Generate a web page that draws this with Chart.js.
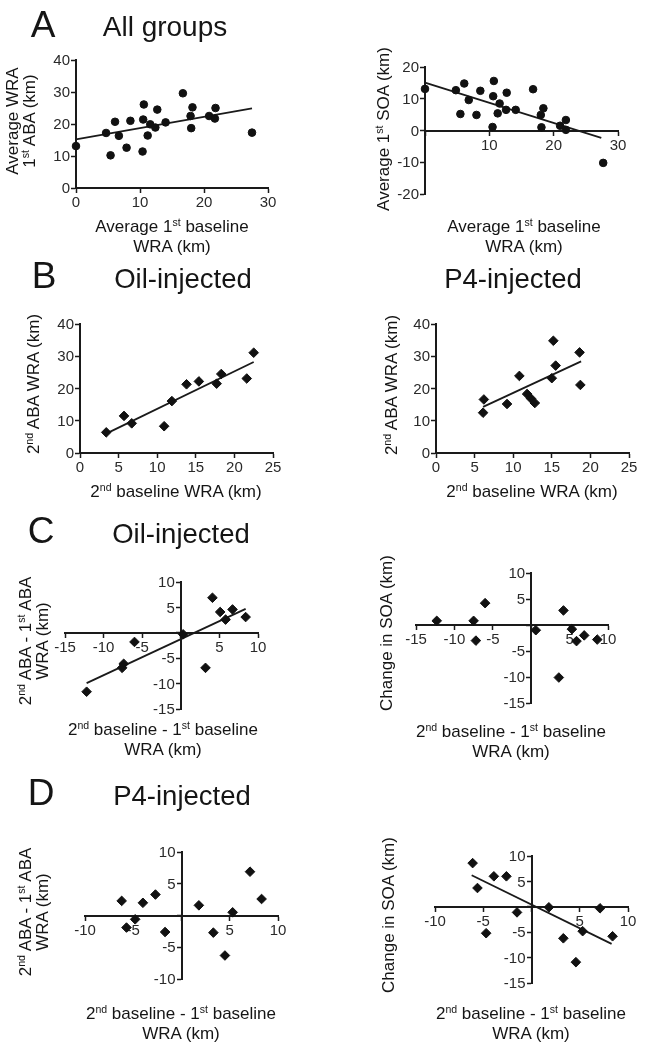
<!DOCTYPE html>
<html>
<head>
<meta charset="utf-8">
<script src="https://cdn.jsdelivr.net/npm/chart.js@4/dist/chart.umd.min.js"></script>
<style>
body { margin: 0; background: #fff; }
#fig { position: relative; width: 645px; height: 1049px; overflow: hidden; font-family: "Liberation Sans", Arial, sans-serif; color: #151515; }
#fig canvas { position: absolute; }
.hd { position: absolute; line-height: 1; white-space: nowrap; transform: translateX(-50%); }
.ax { position: absolute; font-size: 17px; line-height: 20px; white-space: nowrap; text-align: center; transform: translate(-50%, -50%); }
.ax.rot { line-height: 17px; transform: translate(-50%, -50%) rotate(-90deg); }
sup { font-size: 0.62em; vertical-align: 0.55em; line-height: 0; }
</style>
</head>
<body>
<div id="fig">
    <canvas id="aEsq"></canvas>
    <canvas id="aDir"></canvas>
    <canvas id="bEsq"></canvas>
    <canvas id="bDir"></canvas>
    <canvas id="cEsq"></canvas>
    <canvas id="cDir"></canvas>
    <canvas id="dEsq"></canvas>
    <canvas id="dDir"></canvas>

    <!-- Cabeçalhos -->
    <div class="hd" style="left:43px;top:6px;font-size:37px">A</div>
    <div class="hd" style="left:165px;top:13px;font-size:28px">All groups</div>
    <div class="hd" style="left:44px;top:257px;font-size:37px">B</div>
    <div class="hd" style="left:183px;top:265px;font-size:27.5px">Oil-injected</div>
    <div class="hd" style="left:513px;top:265px;font-size:27.5px">P4-injected</div>
    <div class="hd" style="left:41px;top:512px;font-size:37px">C</div>
    <div class="hd" style="left:181px;top:520px;font-size:27.5px">Oil-injected</div>
    <div class="hd" style="left:41px;top:774px;font-size:37px">D</div>
    <div class="hd" style="left:182px;top:782px;font-size:27.5px">P4-injected</div>

    <!-- Títulos dos eixos -->
    <div class="ax rot" style="left:21px;top:121px">Average WRA<br>1<sup>st</sup> ABA (km)</div>
    <div class="ax" style="left:172px;top:237px">Average 1<sup>st</sup> baseline<br>WRA (km)</div>
    <div class="ax rot" style="left:383px;top:129px">Average 1<sup>st</sup> SOA (km)</div>
    <div class="ax" style="left:524px;top:237px">Average 1<sup>st</sup> baseline<br>WRA (km)</div>

    <div class="ax rot" style="left:33px;top:384px">2<sup>nd</sup> ABA WRA (km)</div>
    <div class="ax" style="left:176px;top:492px">2<sup>nd</sup> baseline WRA (km)</div>
    <div class="ax rot" style="left:391px;top:385px">2<sup>nd</sup> ABA WRA (km)</div>
    <div class="ax" style="left:532px;top:492px">2<sup>nd</sup> baseline WRA (km)</div>

    <div class="ax rot" style="left:34px;top:641px">2<sup>nd</sup> ABA - 1<sup>st</sup> ABA<br>WRA (km)</div>
    <div class="ax" style="left:163px;top:740px">2<sup>nd</sup> baseline - 1<sup>st</sup> baseline<br>WRA (km)</div>
    <div class="ax rot" style="left:386px;top:633px">Change in SOA (km)</div>
    <div class="ax" style="left:511px;top:742px">2<sup>nd</sup> baseline - 1<sup>st</sup> baseline<br>WRA (km)</div>

    <div class="ax rot" style="left:34px;top:912px">2<sup>nd</sup> ABA - 1<sup>st</sup> ABA<br>WRA (km)</div>
    <div class="ax" style="left:181px;top:1024px">2<sup>nd</sup> baseline - 1<sup>st</sup> baseline<br>WRA (km)</div>
    <div class="ax rot" style="left:388px;top:915px">Change in SOA (km)</div>
    <div class="ax" style="left:531px;top:1024px">2<sup>nd</sup> baseline - 1<sup>st</sup> baseline<br>WRA (km)</div>
</div>

<script>
// A - todos os grupos: WRA média na 1ª ABA
var aBaselineWra = [0, 4.7, 5.4, 6.1, 6.7, 7.9, 8.5, 10.6, 10.5, 10.4, 11.2, 11.6, 12.4, 12.7, 14.0, 16.7, 18.2, 17.9, 18.0, 20.8, 21.8, 21.7, 27.5];
var aAbaWra = [13.1, 17.2, 10.2, 20.7, 16.3, 12.6, 21.0, 26.1, 21.4, 11.4, 16.4, 19.9, 18.9, 24.5, 20.5, 29.6, 25.2, 22.5, 18.7, 22.5, 25.0, 21.7, 17.3];
var aAbaFitX = [0, 27.5];
var aAbaFitY = [15.2, 24.9];

// A - todos os grupos: SOA média na 1ª ABA
var aSoaBaseline = [0, 4.8, 6.1, 5.5, 6.8, 8.0, 8.6, 10.7, 10.6, 10.5, 11.3, 11.6, 12.6, 12.7, 14.1, 16.8, 18.4, 18.0, 18.1, 21.0, 21.9, 21.9, 27.7];
var aSoa = [13.1, 12.7, 14.8, 5.2, 9.6, 4.9, 12.5, 15.6, 10.8, 1.1, 5.4, 8.5, 6.5, 11.9, 6.5, 13.0, 7.0, 4.9, 1.0, 1.5, 3.3, 0.2, -10.2];
var aSoaFitX = [0, 27.4];
var aSoaFitY = [15.1, -2.3];

// B - 2ª baseline x 2ª ABA
var bOilBaseline = [3.4, 5.7, 6.7, 10.9, 11.9, 13.8, 15.4, 17.7, 18.3, 21.6, 22.5];
var bOilAba = [6.4, 11.5, 9.2, 8.3, 16.1, 21.3, 22.2, 21.5, 24.5, 23.1, 31.1];
var bOilFitX = [3.4, 22.5];
var bOilFitY = [6.0, 28.2];

var bP4Baseline = [6.2, 6.1, 9.2, 10.8, 11.8, 12.3, 12.8, 15.0, 15.2, 15.5, 18.6, 18.7];
var bP4Aba = [16.6, 12.5, 15.2, 23.9, 18.3, 16.9, 15.5, 23.2, 34.8, 27.1, 31.2, 21.1];
var bP4FitX = [6.1, 18.8];
var bP4FitY = [14.3, 28.4];

// C - diferenças, grupo óleo
var cOilDeltaBase = [-12.2, -7.4, -7.6, -6.0, 0.3, 4.1, 5.1, 5.8, 6.7, 8.4, 3.2];
var cOilDeltaAba = [-11.6, -6.1, -6.9, -1.8, -0.3, 6.9, 4.1, 2.6, 4.6, 3.1, -6.9];
var cOilFitX = [-12.2, 8.4];
var cOilFitY = [-9.9, 4.7];

var cOilSoaBase = [-12.3, -7.5, -7.2, -6.0, 0.6, 4.2, 3.6, 5.3, 5.9, 6.9, 8.6];
var cOilSoaDelta = [0.8, 0.8, -3.0, 4.2, -1.0, 2.8, -10.1, -0.8, -3.1, -2.0, -2.8];

// D - diferenças, grupo P4
var dP4DeltaBase = [-6.2, -5.7, -4.8, -4.0, -2.7, -1.7, 1.8, 3.3, 4.5, 5.3, 7.1, 8.3];
var dP4DeltaAba = [2.3, -1.9, -0.6, 2.0, 3.3, -2.6, 1.6, -2.7, -6.3, 0.5, 6.9, 2.6];

var dP4SoaBase = [-6.1, -5.6, -4.7, -3.9, -2.6, -1.5, 1.8, 3.3, 4.6, 5.3, 7.1, 8.4];
var dP4SoaDelta = [8.6, 3.7, -5.2, 6.0, 6.0, -1.1, -0.1, -6.2, -10.9, -4.8, -0.3, -5.8];
var dP4SoaFitX = [-6.2, 8.3];
var dP4SoaFitY = [6.2, -7.3];

var fonte = '"Liberation Sans", Arial, sans-serif';
Chart.defaults.font.family = fonte;

// Junta dois arrays em pontos {x, y}
function pares(xs, ys) {
    return xs.map(function (x, i) { return { x: x, y: ys[i] }; });
}

// Configuração de um eixo linear (cruzando no zero)
function eixo(min, max, passo, posicao, esconderZero) {
    return {
        type: 'linear',
        min: min,
        max: max,
        position: posicao,
        ticks: {
            stepSize: passo,
            padding: 2,
            color: '#2a2a2a',
            font: { size: 15 },
            maxRotation: 0,
            autoSkip: false,
            callback: function (v) { return (esconderZero && v === 0) ? '' : v; }
        },
        grid: { drawOnChartArea: false, drawTicks: true, tickLength: 4, tickWidth: 1.5, tickColor: '#1a1a1a' },
        border: { display: true, color: '#1a1a1a', width: 2 },
        afterFit: function (s) {
            s.paddingLeft = 0; s.paddingRight = 0; s.paddingTop = 0; s.paddingBottom = 0;
        }
    };
}

// Rótulos do eixo y: o Chart.js não os afasta da linha quando o eixo cruza no zero
function rotulosY(esconderZero) {
    return {
        id: 'rotulosY',
        afterDraw: function (chart) {
            var ey = chart.scales.y;
            var xEixo = chart.scales.x.getPixelForValue(0);
            var ctx = chart.ctx;
            ctx.save();
            ctx.font = '15px ' + fonte;
            ctx.fillStyle = '#2a2a2a';
            ctx.textAlign = 'right';
            ctx.textBaseline = 'middle';
            ey.ticks.forEach(function (t) {
                if (esconderZero && t.value === 0) return;
                ctx.fillText(String(t.value), xEixo - 6, ey.getPixelForValue(t.value) + 1);
            });
            ctx.restore();
        }
    };
}

// Função para criar um painel de dispersão
function criarPainel(id, area, eixoX, eixoY, esconderZeroY, xs, ys, estilo, fitX, fitY) {
    var margem = 40;
    var canvas = document.getElementById(id);
    canvas.width = area[1] - area[0] + 2 * margem;
    canvas.height = area[3] - area[2] + 2 * margem;
    canvas.style.left = (area[0] - margem) + 'px';
    canvas.style.top = (area[2] - margem) + 'px';

    eixoY.ticks.display = false;

    var conjuntos = [{
        data: pares(xs, ys),
        pointStyle: estilo,
        pointRadius: estilo === 'circle' ? 3.8 : 4.8,
        pointBackgroundColor: '#111',
        pointBorderColor: '#111',
        pointBorderWidth: 1,
        showLine: false,
        clip: false
    }];
    if (fitX) {
        conjuntos.push({
            data: pares(fitX, fitY),
            showLine: true,
            borderColor: '#1a1a1a',
            borderWidth: 1.8,
            pointRadius: 0,
            clip: false
        });
    }

    new Chart(canvas, {
        type: 'scatter',
        data: { datasets: conjuntos },
        options: {
            responsive: false,
            animation: false,
            events: [],
            layout: { padding: margem },
            plugins: { legend: { display: false }, tooltip: { enabled: false } },
            scales: { x: eixoX, y: eixoY }
        },
        plugins: [rotulosY(esconderZeroY)]
    });
}

// área do gráfico: [esquerda, direita, topo, base] em pixels
criarPainel('aEsq', [76, 268, 60, 188],
    eixo(0, 30, 10, { y: 0 }, false), eixo(0, 40, 10, { x: 0 }, false), false,
    aBaselineWra, aAbaWra, 'circle', aAbaFitX, aAbaFitY);

criarPainel('aDir', [425, 618, 67, 194],
    eixo(0, 30, 10, { y: 0 }, true), eixo(-20, 20, 10, { x: 0 }, false), false,
    aSoaBaseline, aSoa, 'circle', aSoaFitX, aSoaFitY);

criarPainel('bEsq', [80, 273, 324, 453],
    eixo(0, 25, 5, { y: 0 }, false), eixo(0, 40, 10, { x: 0 }, false), false,
    bOilBaseline, bOilAba, 'rectRot', bOilFitX, bOilFitY);

criarPainel('bDir', [436, 629, 324, 453],
    eixo(0, 25, 5, { y: 0 }, false), eixo(0, 40, 10, { x: 0 }, false), false,
    bP4Baseline, bP4Aba, 'rectRot', bP4FitX, bP4FitY);

criarPainel('cEsq', [65, 258, 582, 709],
    eixo(-15, 10, 5, { y: 0 }, true), eixo(-15, 10, 5, { x: 0 }, true), true,
    cOilDeltaBase, cOilDeltaAba, 'rectRot', cOilFitX, cOilFitY);

criarPainel('cDir', [416, 608, 573, 703],
    eixo(-15, 10, 5, { y: 0 }, true), eixo(-15, 10, 5, { x: 0 }, true), true,
    cOilSoaBase, cOilSoaDelta, 'rectRot', null, null);

criarPainel('dEsq', [85, 278, 852, 979],
    eixo(-10, 10, 5, { y: 0 }, true), eixo(-10, 10, 5, { x: 0 }, true), true,
    dP4DeltaBase, dP4DeltaAba, 'rectRot', null, null);

criarPainel('dDir', [435, 628, 856, 983],
    eixo(-10, 10, 5, { y: 0 }, true), eixo(-15, 10, 5, { x: 0 }, true), true,
    dP4SoaBase, dP4SoaDelta, 'rectRot', dP4SoaFitX, dP4SoaFitY);
</script>
</body>
</html>
